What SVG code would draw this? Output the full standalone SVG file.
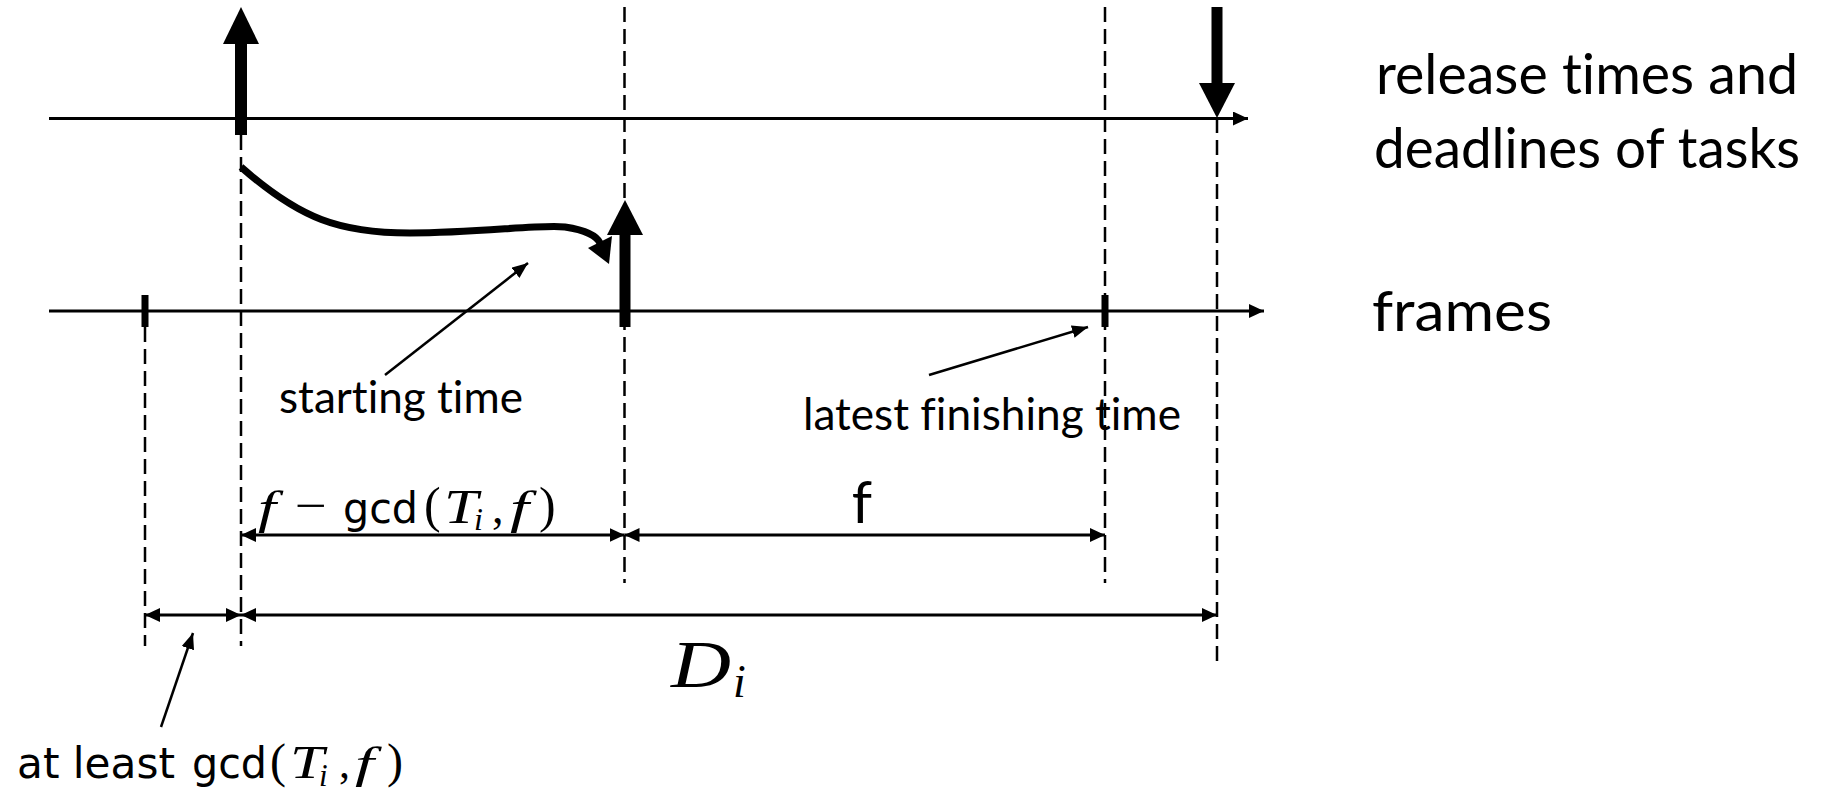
<svg xmlns="http://www.w3.org/2000/svg" width="1845" height="791" viewBox="0 0 1845 791">
<style>
.axis{stroke:#000;stroke-width:3;fill:none}
.dash{stroke:#000;stroke-width:2.5;stroke-dasharray:15 7;fill:none}
.dim{stroke:#000;stroke-width:2.8;fill:none}
.ptr{stroke:#000;stroke-width:2.5;fill:none}
.solid{fill:#000;stroke:none}
.cal{font-family:Lato,"Open Sans","Liberation Sans",sans-serif;fill:#000;font-variant-ligatures:none;font-feature-settings:"liga" 0,"clig" 0}
.sans{font-family:"DejaVu Sans",sans-serif;fill:#000}
.math{font-family:"Liberation Serif","DejaVu Serif",serif;fill:#000}
.it{font-style:italic}
</style>
<defs>
<marker id="ah" viewBox="0 0 15 14" refX="15" refY="7" markerWidth="15" markerHeight="14" markerUnits="userSpaceOnUse" orient="auto-start-reverse"><path d="M0,0 L15,7 L0,14 z" fill="#000"/></marker>
<marker id="pt" viewBox="0 0 16 13" refX="16" refY="6.5" markerWidth="16" markerHeight="13" markerUnits="userSpaceOnUse" orient="auto"><path d="M0,0 L16,6.5 L0,13 z" fill="#000"/></marker>
</defs>
<rect width="1845" height="791" fill="#fff"/>

<g id="guides">
<line class="dash" x1="145" y1="327" x2="145" y2="646"/>
<line class="dash" x1="241" y1="135" x2="241" y2="646"/>
<line class="dash" x1="624.5" y1="7" x2="624.5" y2="583"/>
<line class="dash" x1="1105" y1="7" x2="1105" y2="583"/>
<line class="dash" x1="1217" y1="118" x2="1217" y2="663"/>
</g>

<g id="task-axis">
<line class="axis" x1="49" y1="118.5" x2="1248" y2="118.5" marker-end="url(#ah)"/>
</g>
<g id="frame-axis">
<line class="axis" x1="49" y1="311" x2="1264" y2="311" marker-end="url(#ah)"/>
</g>

<g id="release-arrow">
<rect class="solid" x="235" y="42" width="12" height="93"/>
<polygon class="solid" points="241,7 259,44 223,44"/>
</g>
<g id="deadline-arrow">
<rect class="solid" x="1211.5" y="7" width="11" height="77"/>
<polygon class="solid" points="1199,83 1235,83 1217,118"/>
</g>
<g id="start-arrow">
<rect class="solid" x="619.5" y="234" width="11" height="93"/>
<polygon class="solid" points="625,200 643,235 607,235"/>
</g>
<g id="tick-left">
<rect class="solid" x="141.5" y="295" width="7" height="32"/>
</g>
<g id="tick-right">
<rect class="solid" x="1101.5" y="295" width="7" height="32"/>
</g>

<g id="connectors">
<path d="M241,167 C300,219 340,233 410,233 C480,233 540,224 565,227 C585,230 597,236 600,243" stroke="#000" stroke-width="7" fill="none"/>
<polygon class="solid" points="588,248 612,236 609,264"/>
<line class="ptr" x1="385" y1="375" x2="528" y2="263" marker-end="url(#pt)"/>
<line class="ptr" x1="929" y1="375" x2="1088" y2="327" marker-end="url(#pt)"/>
<line class="ptr" x1="161" y1="727" x2="193" y2="633" marker-end="url(#pt)"/>
<line class="dim" x1="241" y1="535" x2="624.5" y2="535" marker-start="url(#ah)" marker-end="url(#ah)"/>
<line class="dim" x1="624.5" y1="535" x2="1105" y2="535" marker-start="url(#ah)" marker-end="url(#ah)"/>
<line class="dim" x1="145" y1="615" x2="241" y2="615" marker-start="url(#ah)" marker-end="url(#ah)"/>
<line class="dim" x1="241" y1="615" x2="1217" y2="615" marker-start="url(#ah)" marker-end="url(#ah)"/>
</g>

<g id="label-release">
<text class="cal" x="1376" y="94" font-size="56" textLength="422" lengthAdjust="spacingAndGlyphs">release times and</text>
<text class="cal" x="1374" y="168" font-size="56" textLength="426" lengthAdjust="spacingAndGlyphs">deadlines of tasks</text>
</g>
<g id="label-frames">
<text class="cal" x="1372" y="331" font-size="56" textLength="180" lengthAdjust="spacingAndGlyphs">frames</text>
</g>
<g id="label-starting">
<text class="cal" x="279" y="413" font-size="44" textLength="244" lengthAdjust="spacingAndGlyphs">starting time</text>
</g>
<g id="label-latest">
<text class="cal" x="803" y="430" font-size="44" textLength="378" lengthAdjust="spacingAndGlyphs">latest finishing time</text>
</g>
<g id="label-f">
<text class="cal" x="862" y="523" font-size="58" text-anchor="middle">f</text>
</g>
<g id="label-fgcd">
<text class="math it" x="258" y="523" font-size="46" textLength="18" lengthAdjust="spacingAndGlyphs">f</text>
<text class="math" x="295" y="521" font-size="46" textLength="32" lengthAdjust="spacingAndGlyphs">−</text>
<text class="sans" x="343" y="523" font-size="42" textLength="75" lengthAdjust="spacingAndGlyphs">gcd</text>
<text class="math" x="424" y="522" font-size="50">(</text>
<text class="math it" x="444" y="523" font-size="48" textLength="34" lengthAdjust="spacingAndGlyphs">T</text>
<text class="math it" x="474" y="530" font-size="32">i</text>
<text class="math" x="492" y="523" font-size="46">,</text>
<text class="math it" x="510" y="523" font-size="46" textLength="19" lengthAdjust="spacingAndGlyphs">f</text>
<text class="math" x="539" y="522" font-size="50">)</text>
</g>
<g id="label-gcd">
<text class="sans" x="17" y="778" font-size="42" textLength="158" lengthAdjust="spacingAndGlyphs">at least</text>
<text class="sans" x="192" y="778" font-size="42" textLength="75" lengthAdjust="spacingAndGlyphs">gcd</text>
<text class="math" x="270" y="777" font-size="48">(</text>
<text class="math it" x="290" y="778" font-size="46" textLength="34" lengthAdjust="spacingAndGlyphs">T</text>
<text class="math it" x="319" y="786" font-size="31">i</text>
<text class="math" x="339" y="778" font-size="44">,</text>
<text class="math it" x="355" y="778" font-size="44" textLength="19" lengthAdjust="spacingAndGlyphs">f</text>
<text class="math" x="387" y="777" font-size="48">)</text>
</g>
<g id="label-D">
<text class="math it" x="671" y="687" font-size="68" textLength="60" lengthAdjust="spacingAndGlyphs">D</text>
<text class="math it" x="733" y="697" font-size="46">i</text>
</g>
</svg>
